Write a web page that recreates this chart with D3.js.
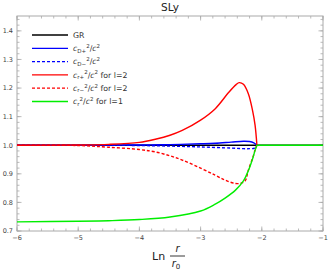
<!DOCTYPE html>
<html>
<head>
<meta charset="utf-8">
<script src="https://d3js.org/d3.v7.min.js"></script>
<style>
  body { margin: 0; background: #fff; }
  text { font-family: "DejaVu Sans", sans-serif; }
</style>
</head>
<body>
<div id="chart"></div>
<script>
"use strict"

// valores
var xTicks = [-6, -5, -4, -3, -2, -1];
var yTicks = [0.7, 0.8, 0.9, 1.0, 1.1, 1.2, 1.3, 1.4];

var grX = [-6, -1];
var grY = [1.0, 1.0];

var dPlusX = [-6, -4.5, -4, -3.5, -3, -2.76, -2.5, -2.3, -2.2, -2.13, -2.08];
var dPlusY = [1.0, 1.0002, 1.001, 1.002, 1.005, 1.007, 1.011, 1.014, 1.013, 1.008, 1.0];

var dMinusX = [-6, -4.5, -4, -3.5, -3, -2.5, -2.3, -2.2, -2.12, -2.08];
var dMinusY = [1.0, 0.9998, 0.999, 0.997, 0.994, 0.99, 0.988, 0.988, 0.99, 1.0];

var rPlusX = [-6, -5, -4.5, -4, -3.74, -3.5, -3.3, -3, -2.76, -2.54, -2.42, -2.37, -2.3, -2.22, -2.15, -2.11, -2.08];
var rPlusY = [1.0, 1.001, 1.003, 1.01, 1.021, 1.035, 1.052, 1.088, 1.128, 1.185, 1.212, 1.219, 1.213, 1.18, 1.12, 1.07, 1.0];

var rMinusX = [-6, -5, -4.5, -4, -3.75, -3.5, -3.3, -3, -2.76, -2.6, -2.43, -2.33, -2.27, -2.22, -2.15, -2.11, -2.08];
var rMinusY = [1.0, 0.999, 0.993, 0.985, 0.977, 0.963, 0.948, 0.92, 0.895, 0.878, 0.866, 0.868, 0.876, 0.913, 0.955, 0.983, 1.0];

var r1X = [-6, -5, -4.5, -4, -3.5, -3, -2.76, -2.6, -2.43, -2.3, -2.22, -2.15, -2.11, -2.08];
var r1Y = [0.732, 0.734, 0.736, 0.740, 0.749, 0.770, 0.794, 0.815, 0.843, 0.875, 0.911, 0.953, 0.982, 1.0];
var r1TailX = [-2.08, -1];
var r1TailY = [1.0, 1.0];

var larguraSVG = 332, alturaSVG = 273;
var margem = {top: 16, direita: 9, bottom: 42, esquerda: 17};
var larguraVis = larguraSVG - margem.esquerda - margem.direita,
    alturaVis = alturaSVG - margem.top - margem.bottom;

var svg = d3.select("#chart").append("svg")
    .attr("width", larguraSVG)
    .attr("height", alturaSVG);

var grafico = svg.append("g")
    .attr("transform", "translate(" + margem.esquerda + "," + margem.top + ")");

var x = d3.scaleLinear().domain([-6, -1]).range([0, larguraVis]);
var y = d3.scaleLinear().domain([0.7, 1.452]).range([alturaVis, 0]);

grafico.append("clipPath").attr("id", "clip")
    .append("rect").attr("width", larguraVis).attr("height", alturaVis);

// ticks menores e maiores nos quatro lados
var corEixo = "#aaa";
var xMinor = d3.range(-6, -0.99, 0.2);
var yMinor = d3.range(0.7, 1.451, 0.02);

function tickSet(vals, len, horiz) {
  vals.forEach(function(v) {
    if (horiz) {
      var px = x(v);
      grafico.append("line").attr("x1", px).attr("x2", px).attr("y1", alturaVis).attr("y2", alturaVis - len)
        .attr("stroke", corEixo).attr("stroke-width", 0.8);
      grafico.append("line").attr("x1", px).attr("x2", px).attr("y1", 0).attr("y2", len)
        .attr("stroke", corEixo).attr("stroke-width", 0.8);
    } else {
      var py = y(v);
      grafico.append("line").attr("x1", 0).attr("x2", len).attr("y1", py).attr("y2", py)
        .attr("stroke", corEixo).attr("stroke-width", 0.8);
      grafico.append("line").attr("x1", larguraVis).attr("x2", larguraVis - len).attr("y1", py).attr("y2", py)
        .attr("stroke", corEixo).attr("stroke-width", 0.8);
    }
  });
}
tickSet(xMinor, 2.5, true);
tickSet(xTicks, 4.5, true);
tickSet(yMinor, 2.5, false);
tickSet(yTicks, 4.5, false);

grafico.append("rect")
    .attr("width", larguraVis).attr("height", alturaVis)
    .attr("fill", "none").attr("stroke", corEixo).attr("stroke-width", 1);

// rotulos dos ticks
grafico.selectAll(".xl").data(xTicks).enter().append("text")
    .attr("x", d => x(d)).attr("y", alturaVis + 9)
    .attr("text-anchor", "middle").attr("font-size", 6.5).attr("fill", "#444")
    .text(d => d3.format("d")(d).replace("-", "\u2212"));

grafico.selectAll(".yl").data(yTicks).enter().append("text")
    .attr("x", -4).attr("y", d => y(d) + 2.3)
    .attr("text-anchor", "end").attr("font-size", 6.5).attr("fill", "#444")
    .text(d => d3.format(".1f")(d));

// curvas
var linha = d3.line().x(d => x(d[0])).y(d => y(d[1])).curve(d3.curveCatmullRom.alpha(0.5));
var series = [
  {xs: grX, ys: grY, cor: "#000", dash: null},
  {xs: dPlusX, ys: dPlusY, cor: "#0000ff", dash: null},
  {xs: dMinusX, ys: dMinusY, cor: "#0000ff", dash: "3,2"},
  {xs: rPlusX, ys: rPlusY, cor: "#ff0000", dash: null},
  {xs: rMinusX, ys: rMinusY, cor: "#ff0000", dash: "3,2"},
  {xs: r1X, ys: r1Y, cor: "#00ee00", dash: null},
  {xs: r1TailX, ys: r1TailY, cor: "#00ee00", dash: null}
];
var area = grafico.append("g").attr("clip-path", "url(#clip)");
series.forEach(function(s) {
  area.append("path")
      .datum(s.xs.map((v, i) => [v, s.ys[i]]))
      .attr("d", linha)
      .attr("fill", "none")
      .attr("stroke", s.cor)
      .attr("stroke-width", 1.4)
      .attr("stroke-dasharray", s.dash);
});

// legenda
var legenda = [
  {cor: "#000", dash: null, sub: null, tail: "GR"},
  {cor: "#0000ff", dash: null, sub: "D+", tail: ""},
  {cor: "#0000ff", dash: "3,2", sub: "D\u2212", tail: ""},
  {cor: "#ff0000", dash: null, sub: "r+", tail: " for l=2"},
  {cor: "#ff0000", dash: "3,2", sub: "r\u2212", tail: " for l=2"},
  {cor: "#00ee00", dash: null, sub: "r", tail: " for l=1"}
];
legenda.forEach(function(d, i) {
  var ly = 35 + i * 13.3;
  svg.append("line").attr("x1", 32).attr("x2", 68).attr("y1", ly).attr("y2", ly)
      .attr("stroke", d.cor).attr("stroke-width", 1.3).attr("stroke-dasharray", d.dash);
  var t = svg.append("text").attr("x", 73).attr("y", ly + 2.7).attr("font-size", 7.8).attr("fill", "#333");
  if (d.sub === null) { t.text(d.tail); return; }
  t.append("tspan").attr("font-style", "italic").text("c");
  t.append("tspan").attr("font-size", 5.5).attr("dy", 1.5).text(d.sub);
  t.append("tspan").attr("font-size", 5.5).attr("dy", -4.8).text("2");
  t.append("tspan").attr("dy", 3.3).text("/");
  t.append("tspan").attr("font-style", "italic").text("c");
  t.append("tspan").attr("font-size", 5.5).attr("dy", -3.3).text("2");
  t.append("tspan").attr("dy", 3.3).text(d.tail);
});

// titulo e rotulo do eixo x
svg.append("text").attr("x", margem.esquerda + larguraVis / 2).attr("y", 11)
    .attr("text-anchor", "middle").attr("font-size", 10.5).attr("fill", "#222").text("SLy");

svg.append("text").attr("x", 152).attr("y", 260).attr("font-size", 11).attr("fill", "#222").text("Ln");
svg.append("line").attr("x1", 170).attr("x2", 185).attr("y1", 256).attr("y2", 256)
    .attr("stroke", "#222").attr("stroke-width", 0.9);
svg.append("text").attr("x", 177.5).attr("y", 252).attr("text-anchor", "middle")
    .attr("font-size", 10).attr("font-style", "italic").attr("fill", "#222").text("r");
var r0 = svg.append("text").attr("x", 176).attr("y", 267).attr("text-anchor", "middle")
    .attr("font-size", 10).attr("font-style", "italic").attr("fill", "#222");
r0.append("tspan").text("r");
r0.append("tspan").attr("font-style", "normal").attr("font-size", 7).attr("dy", 1.5).text("0");
</script>
</body>
</html>
